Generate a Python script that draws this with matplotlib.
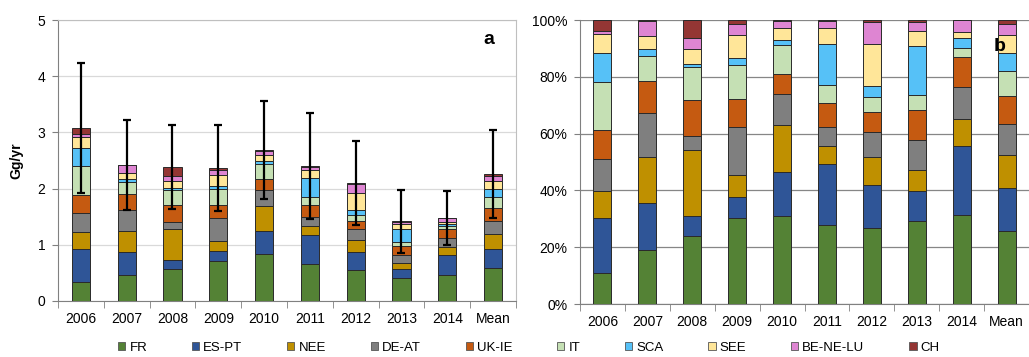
import numpy as np
import matplotlib.pyplot as plt
from matplotlib.patches import Patch

plt.rcParams['font.family'] = ['Liberation Sans', 'DejaVu Sans']
plt.rcParams['font.size'] = 10

years = ['2006', '2007', '2008', '2009', '2010', '2011', '2012', '2013', '2014', 'Mean']
regions = ['FR', 'ES-PT', 'NEE', 'DE-AT', 'UK-IE', 'IT', 'SCA', 'SEE', 'BE-NE-LU', 'CH']
colors = ['#548235', '#2F5597', '#BF9000', '#7F7F7F', '#C55A11',
          '#C5E0B4', '#56C1F7', '#FFE699', '#DE85D2', '#943634']

# share of each region in the yearly total (%)
fr = [10.8, 19.0, 23.9, 30.2, 31.0, 27.8, 26.6, 29.3, 31.2, 25.6]
es_pt = [19.4, 16.7, 7.1, 7.4, 15.4, 21.4, 15.2, 10.6, 24.3, 15.1]
nee = [9.7, 16.1, 23.2, 7.7, 16.5, 6.4, 9.8, 7.4, 9.5, 11.9]
de_at = [11.0, 15.3, 5.0, 16.9, 11.0, 6.6, 9.0, 10.6, 11.3, 10.7]
uk_ie = [10.3, 11.3, 12.6, 9.9, 7.0, 8.7, 7.0, 10.5, 10.6, 9.8]
it = [16.9, 8.8, 11.5, 11.9, 10.2, 6.2, 5.4, 5.2, 3.4, 8.8]
sca = [10.2, 2.7, 1.1, 2.5, 1.7, 14.3, 3.9, 17.2, 3.5, 6.4]
see = [6.7, 4.5, 5.3, 8.1, 4.3, 5.9, 14.8, 5.4, 1.9, 6.3]
be_ne_lu = [1.2, 5.4, 4.1, 3.9, 2.7, 2.3, 7.5, 3.0, 4.2, 3.9]
ch = [3.8, 0.2, 6.2, 1.5, 0.2, 0.4, 0.8, 0.8, 0.1, 1.5]

# totals (Gg/yr) and their uncertainty
total = [3.08, 2.42, 2.38, 2.37, 2.68, 2.40, 2.10, 1.42, 1.47, 2.26]
err = [1.15, 0.80, 0.75, 0.76, 0.87, 0.94, 0.74, 0.56, 0.48, 0.78]

shares = np.array([fr, es_pt, nee, de_at, uk_ie, it, sca, see, be_ne_lu, ch])
shares = shares / shares.sum(axis=0) * 100
absval = shares * np.array(total) / 100

fig = plt.figure(figsize=(10.29, 3.57), dpi=100)
W, H = 1029, 357
axa = fig.add_axes([58 / W, 1 - 301 / H, (516 - 58) / W, (301 - 20) / H])
axb = fig.add_axes([580 / W, 1 - 304 / H, (1029 - 580) / W, (304 - 20) / H])

x = np.arange(len(years))
bw = 0.4

def stack(ax, data):
    bottom = np.zeros(len(years))
    for vals, c in zip(data, colors):
        ax.bar(x, vals, bw, bottom=bottom, color=c, edgecolor='#2a2a2a',
               linewidth=0.7, zorder=3)
        bottom += vals
    return bottom

# panel a
top = stack(axa, absval)
axa.errorbar(x, top, yerr=err, fmt='none', ecolor='black', elinewidth=1.6,
             capsize=3, capthick=1.6, zorder=4)
axa.set_xlim(-0.5, 9.5)
axa.set_ylim(0, 5)
axa.set_yticks(range(6))
axa.grid(axis='y', color='#D9D9D9', linewidth=0.9, zorder=0)
for s in ['top', 'right']:
    axa.spines[s].set_color('#BFBFBF')
for s in ['left', 'bottom']:
    axa.spines[s].set_color('#808080')
axa.set_ylabel('Gg/yr', fontweight='bold', fontsize=10, labelpad=10)
axa.text(0.94, 0.93, 'a', transform=axa.transAxes, fontsize=14,
         fontweight='bold', ha='center', va='center')

# panel b
stack(axb, shares)
axb.set_xlim(-0.5, 9.5)
axb.set_ylim(0, 100)
axb.set_yticks(range(0, 101, 20))
axb.set_yticklabels([f'{v}%' for v in range(0, 101, 20)])
axb.grid(axis='y', color='#868686', linewidth=0.9, zorder=0)
axb.spines['right'].set_visible(False)
axb.spines['top'].set_visible(False)
for s in ['left', 'bottom']:
    axb.spines[s].set_color('#808080')
axb.text(0.935, 0.905, 'b', transform=axb.transAxes, fontsize=14,
         fontweight='bold', ha='center', va='center', zorder=5)

for ax in (axa, axb):
    ax.set_xticks(x)
    ax.set_xticklabels(years)
    ax.set_xticks(np.arange(-0.5, 10, 1), minor=True)
    ax.tick_params(axis='x', which='major', length=0, pad=8, labelsize=10)
    ax.tick_params(axis='x', which='minor', length=5, color='#808080')
    ax.tick_params(axis='y', length=4, color='#808080', labelsize=10, pad=5)

handles = [Patch(facecolor=c, edgecolor='#555555', linewidth=0.6) for c in colors]
fig.legend(handles, regions, loc='center', bbox_to_anchor=(0.514, 1 - 348 / H),
           ncol=10, frameon=False, fontsize=9.5, handlelength=0.55,
           handleheight=0.55, handletextpad=0.3, columnspacing=3.4)

fig.savefig('out.png', dpi=100)
